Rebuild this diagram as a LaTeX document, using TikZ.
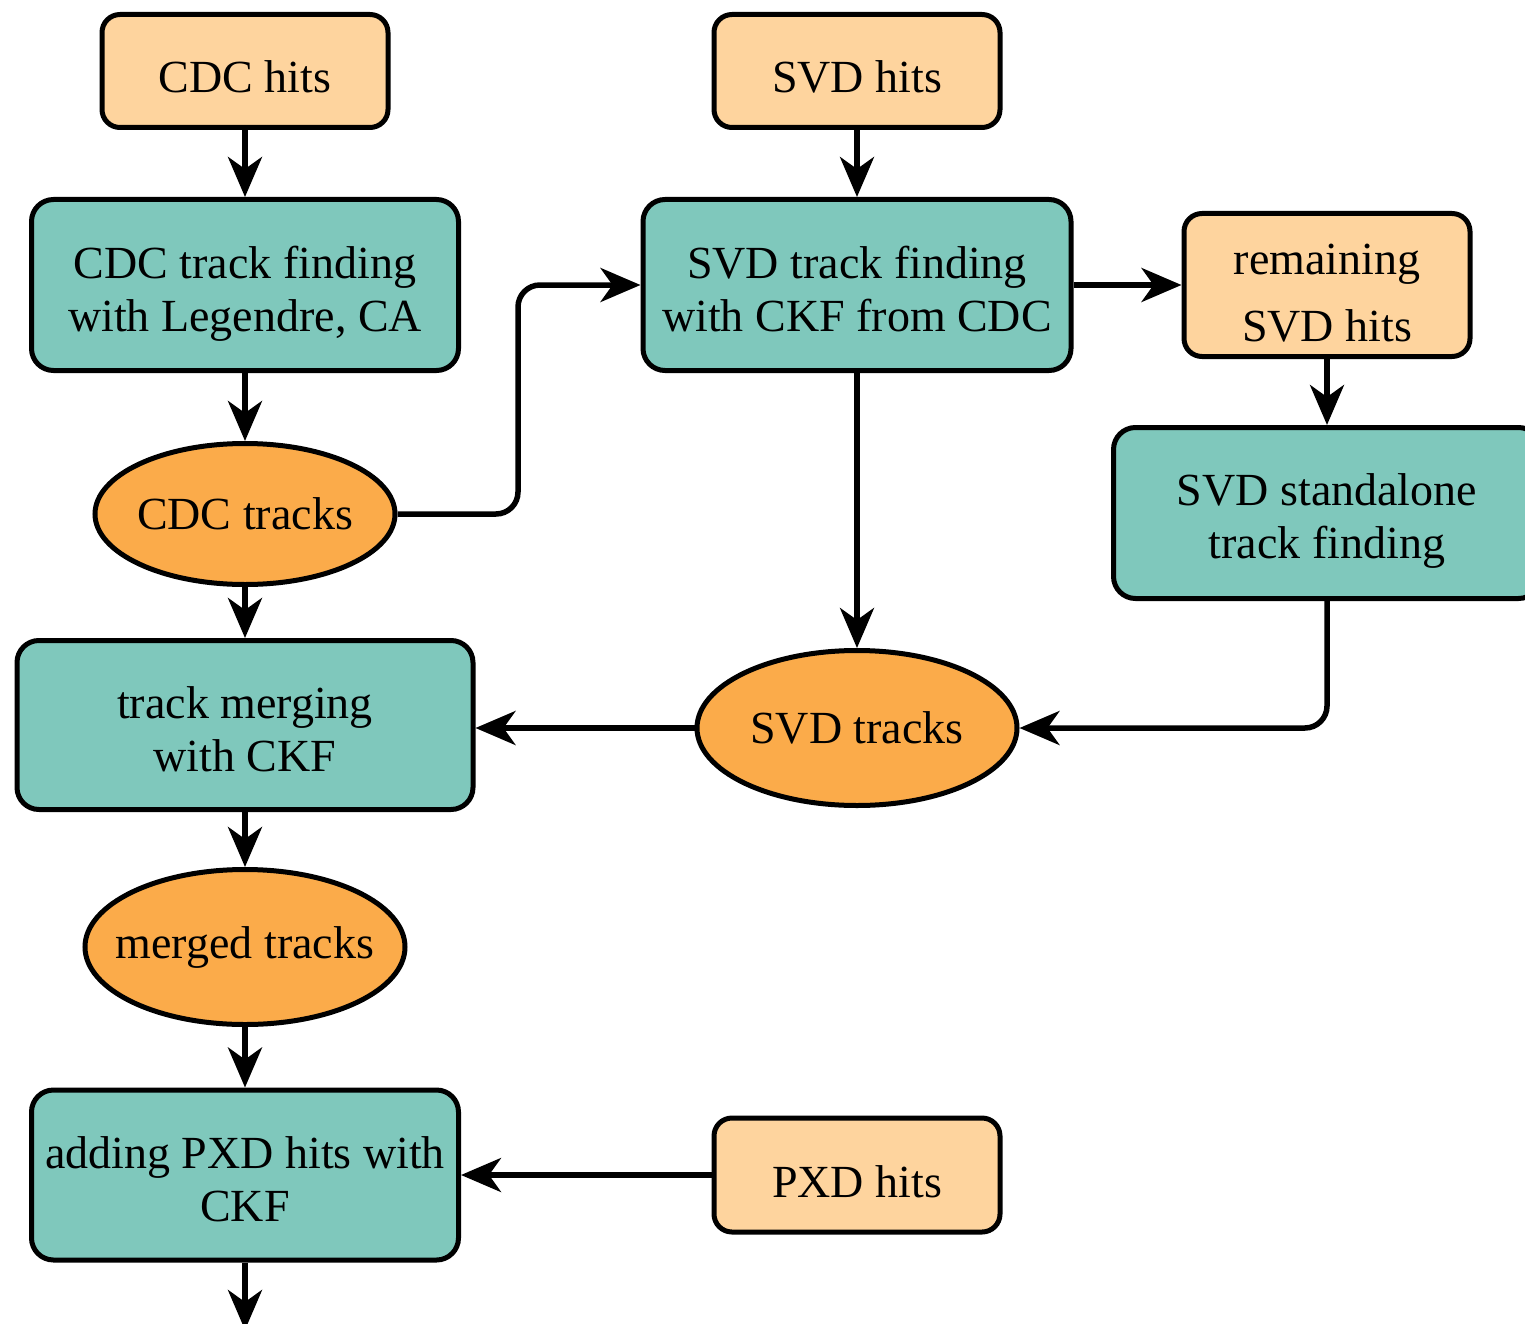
\documentclass[tikz,border=0pt]{standalone}
\usepackage{fontspec}
\setmainfont{Liberation Serif}
\usetikzlibrary{shapes.geometric,arrows.meta}
\definecolor{tealbox}{HTML}{7FC8BC}
\definecolor{hitbox}{HTML}{FED49E}
\definecolor{trkell}{HTML}{FBAB4A}
\begin{document}
\begin{tikzpicture}[x=1pt,y=-1pt,
  every node/.style={font=\fontsize{46}{53}\selectfont, align=center, inner sep=0pt},
  base/.style={draw=black, line width=5pt},
  hitsbox/.style={base, rectangle, rounded corners=18pt, fill=hitbox},
  procbox/.style={base, rectangle, rounded corners=22pt, fill=tealbox},
  trkellipse/.style={base, ellipse, fill=trkell},
  arr/.style={line width=5.5pt, -{Stealth[length=40pt,width=34pt,inset=12pt]}, rounded corners=22pt}
]
\useasboundingbox (0,0) rectangle (1525,1324);
\clip (0,0) rectangle (1525,1324);

\node[hitsbox, minimum width=286, minimum height=113,
  label={[yshift=-6pt]center:{CDC hits}}] (cdch) at (245,71) {};
\node[hitsbox, minimum width=286, minimum height=113,
  label={[yshift=-6pt]center:{SVD hits}}] (svdh) at (857,71) {};
\node[procbox, minimum width=427, minimum height=171,
  label={[yshift=-9pt]center:{CDC track finding\\with Legendre, CA}}] (cdctf) at (245,285) {};
\node[procbox, minimum width=428, minimum height=171,
  label={[yshift=-4pt]center:{SVD track finding\\with CKF from CDC}}] (svdtf) at (857,285) {};
\node[hitsbox, minimum width=286, minimum height=143,
  label={[yshift=-8pt, font=\fontsize{46}{67}\selectfont]center:{remaining\\SVD hits}}] (rem) at (1327,285) {};
\node[procbox, minimum width=427, minimum height=171,
  label={[yshift=-8pt]center:{SVD standalone\\track finding}}] (svdsa) at (1327,513) {};
\node[trkellipse, minimum width=300, minimum height=141] (cdct) at (245,514) {\makebox[0pt]{CDC tracks}};
\node[procbox, minimum width=456, minimum height=169,
  label={[yshift=-4pt]center:{track merging\\with CKF}}] (merge) at (245,725) {};
\node[trkellipse, minimum width=320, minimum height=155] (svdt) at (857,728) {\makebox[0pt]{SVD tracks}};
\node[trkellipse, minimum width=320, minimum height=155] (mrgt) at (245,947) {\makebox[0pt]{merged tracks}};
\node[procbox, minimum width=427, minimum height=170,
  label={[yshift=-4pt]center:{adding PXD hits with\\CKF}}] (pxdadd) at (245,1175) {};
\node[hitsbox, minimum width=286, minimum height=114,
  label={[yshift=-7pt]center:{PXD hits}}] (pxdh) at (857,1175) {};

\coordinate (j1) at (518,400);
\coordinate (outend) at (245,1330);

\draw[arr] (cdch) -- (cdctf);
\draw[arr] (svdh) -- (svdtf);
\draw[arr] (cdctf) -- (cdct);
\draw[arr] (cdct.east) -| (j1) |- (svdtf.west);
\draw[arr] (svdtf.east) -- (rem.west);
\draw[arr] (svdtf.south) -- (svdt.north);
\draw[arr] (rem) -- (svdsa);
\draw[arr] (svdsa.south) |- (svdt.east);
\draw[arr] (cdct) -- (merge);
\draw[arr] (svdt.west) -- (merge.east |- svdt.west);
\draw[arr] (merge) -- (mrgt);
\draw[arr] (mrgt) -- (pxdadd);
\draw[arr] (pxdh.west) -- (pxdadd.east);
\draw[arr] (pxdadd.south) -- (outend);
\end{tikzpicture}
\end{document}
